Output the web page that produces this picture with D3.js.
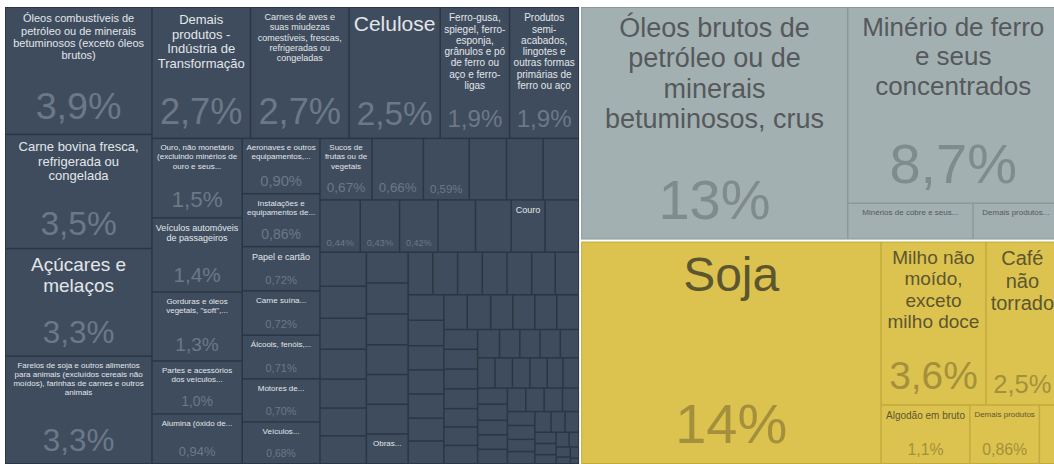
<!DOCTYPE html>
<html>
<head>
<meta charset="utf-8">
<script src="https://cdn.jsdelivr.net/npm/d3@7"></script>
<style>
  html, body { margin: 0; padding: 0; background: #fff; overflow: hidden; }
  svg { display: block; }
</style>
</head>
<body>
<svg id="chart"></svg>
<script>
// Exportações brasileiras por produto (participação %, leitura aproximada do gráfico)
const groupNames = ["Indústria de Transformação", "Indústria Extrativa", "Agropecuária"];

// "" = nome não legível na imagem
const transfNames = [
  "Óleos combustíveis de petróleo ou de minerais betuminosos (exceto óleos brutos)",
  "Carne bovina fresca, refrigerada ou congelada",
  "Açúcares e melaços",
  "Farelos de soja e outros alimentos para animais (excluídos cereais não moídos), farinhas de carnes e outros animais",
  "Demais produtos - Indústria de Transformação",
  "Carnes de aves e suas miudezas comestíveis, frescas, refrigeradas ou congeladas",
  "Celulose",
  "Ferro-gusa, spiegel, ferro-esponja, grânulos e pó de ferro ou aço e ferro-ligas",
  "Produtos semi-acabados, lingotes e outras formas primárias de ferro ou aço",
  "Ouro, não monetário (excluindo minérios de ouro e seus concentrados)",
  "Veículos automóveis de passageiros",
  "Gorduras e óleos vegetais, \"soft\", bruto, refinado ou fracionado",
  "Partes e acessórios dos veículos automotivos",
  "Alumina (óxido de alumínio), exceto corindo artificial",
  "Aeronaves e outros equipamentos, incluindo suas partes",
  "Instalações e equipamentos de engenharia civil e construtores, e suas partes",
  "Papel e cartão",
  "Carne suína fresca, refrigerada ou congelada",
  "Álcoois, fenóis, fenóis-álcoois, e seus derivados",
  "Motores de pistão, e suas partes",
  "Veículos automóveis para transporte de mercadorias",
  "Sucos de frutas ou de vegetais",
  "", "", "", "", "",
  "", "", "", "", "", "Couro", "",
  "", "", "", "", "", "", "",
  "", "", "", "", "", "", "Obras de ferro ou aço"
];
const transfValues = [
  3.9, 3.5, 3.3, 3.3,
  2.7, 2.7, 2.5, 1.9, 1.9,
  1.5, 1.4, 1.3, 1.0, 0.94,
  0.90, 0.86, 0.72, 0.72, 0.71, 0.70, 0.68,
  0.67, 0.66, 0.59, 0.48, 0.47, 0.46,
  0.44, 0.43, 0.42, 0.41, 0.39, 0.37, 0.37,
  0.33, 0.31, 0.30, 0.29, 0.28, 0.27, 0.27,
  0.27, 0.27, 0.27, 0.26, 0.26, 0.26, 0.26,
  0.22, 0.22, 0.22, 0.22, 0.22, 0.21, 0.21,
  0.19, 0.19, 0.18, 0.18, 0.18, 0.17, 0.17,
  0.17, 0.17, 0.16, 0.16, 0.16, 0.16,
  0.14, 0.14, 0.14, 0.14, 0.13, 0.13,
  0.13, 0.13, 0.12, 0.12, 0.12,
  0.11, 0.11, 0.11, 0.11, 0.11,
  0.10, 0.10, 0.10, 0.10,
  0.09, 0.09, 0.09, 0.09,
  0.09, 0.09, 0.08, 0.08, 0.08, 0.07, 0.07, 0.07, 0.06, 0.06,
  0.05, 0.05, 0.04, 0.04, 0.03, 0.03, 0.02, 0.02, 0.01
];

const extrNames = [
  "Óleos brutos de petróleo ou de minerais betuminosos, crus",
  "Minério de ferro e seus concentrados",
  "Minérios de cobre e seus concentrados",
  "Demais produtos - Indústria Extrativa"
];
const extrValues = [13, 8.7, 0.95, 0.65];

const agroNames = [
  "Soja",
  "Milho não moído, exceto milho doce",
  "Café não torrado",
  "Algodão em bruto",
  "Demais produtos - Agropecuária",
  ""
];
const agroValues = [14, 3.6, 2.5, 1.1, 0.86, 0.24];

const groupColors = [
  { fill: "#3f4c5d", line: "#2c3643", label: "#e2e6ea", share: "#6c7888" },
  { fill: "#a3b0b2", line: "#8c999b", label: "#55595b", share: "#7f8b8d" },
  { fill: "#dcc34f", line: "#c2aa3d", label: "#5c5630", share: "#a4903c" }
];

const width = 1054, height = 464;
const margin = { top: 7, left: 5 };
const treeW = 1054, treeH = 457;

const FONT = '"Liberation Sans", Arial, Helvetica, sans-serif';
const LABEL_MAX = 48, LABEL_MIN = 8, LH = 1.13;
const SHARE_MAX = 56, SHARE_MIN = 8.85;
const PADX = 3, PADY = 4;

const fmt = d3.formatLocale({ decimal: ",", thousands: ".", grouping: [3], currency: ["", ""] }).format(".2r");

const names = [transfNames, extrNames, agroNames];
const values = [transfValues, extrValues, agroValues];

const data = {
  name: "Exportações",
  children: groupNames.map((g, i) => ({
    name: g,
    gi: i,
    children: values[i].map((v, j) => ({ name: names[i][j] || "", value: v, gi: i }))
  }))
};

const root = d3.hierarchy(data)
  .sum(d => d.value)
  .sort((a, b) => b.value - a.value);

d3.treemap()
  .tile(d3.treemapSquarify)
  .size([treeW, treeH])
  .paddingInner(n => n.depth === 0 ? 2 : 1.5)
  .paddingOuter(n => n.depth === 0 ? 0 : 1)(root);

const svg = d3.select("#chart").attr("width", width).attr("height", height);
const g = svg.append("g").attr("transform", `translate(${margin.left},${margin.top})`);

// text measuring
const ctx = document.createElement("canvas").getContext("2d");
function textW(s, size) {
  ctx.font = `${size}px ${FONT}`;
  return ctx.measureText(s).width;
}

// split into tokens, breaking after hyphens too
function tokenize(text) {
  const toks = [];
  text.split(/\s+/).filter(Boolean).forEach(w => {
    const parts = w.split(/(?<=-)(?=.)/);
    parts.forEach((p, k) => toks.push({ t: p, glue: k > 0 }));
  });
  return toks;
}
function joinToks(toks) {
  return toks.map((o, k) => (k > 0 && !o.glue ? " " : "") + o.t).join("");
}

function wrap(toks, size, maxW) {
  const lines = [];
  let cur = [];
  for (const tk of toks) {
    const next = cur.concat([tk]);
    if (textW(joinToks(next), size) <= maxW) {
      cur = next;
    } else {
      if (!cur.length) return null;
      lines.push(cur);
      const nt = { t: tk.t, glue: false };
      if (textW(nt.t, size) > maxW) return null;
      cur = [nt];
    }
  }
  if (cur.length) lines.push(cur);
  return lines.map(joinToks);
}

// font size guess from box area, then shrink until the wrapped text fits
function fitLabel(text, boxW, boxH) {
  if (!text || boxW <= 0 || boxH < LABEL_MIN * LH) return null;
  const toks = tokenize(text);
  const sizes = toks.map(o => textW(o.t, LABEL_MAX));
  const areaMod = 1.165 + boxW / boxH * 0.1;
  const textArea = d3.sum(sizes) * LABEL_MAX * 1.2 * areaMod;
  const maxWord = d3.max(sizes);
  let s = LABEL_MAX;
  if (maxWord > boxW || textArea > boxW * boxH) {
    s = Math.floor(LABEL_MAX * Math.min(Math.sqrt(boxW * boxH / textArea), boxW / maxWord));
  }
  s = Math.min(s, Math.floor(boxH * 0.8));
  for (; s >= LABEL_MIN; s -= 1) {
    const lines = wrap(toks, s, boxW);
    if (lines && lines.length * s * LH <= boxH) return { size: s, lines };
  }
  // truncate with ellipsis at the smallest size
  s = LABEL_MIN;
  const maxLines = Math.floor(boxH / (s * LH));
  if (maxLines < 1) return null;
  const lines = [];
  let cur = [];
  const ellipsed = c => {
    while (c.length && (c[c.length - 1].t === "-" || textW(joinToks(c) + "...", s) > boxW)) c.pop();
    return c.length ? joinToks(c) + "..." : null;
  };
  for (const tk of toks) {
    const next = cur.concat([tk]);
    if (textW(joinToks(next), s) <= boxW) { cur = next; continue; }
    if (lines.length + 1 >= maxLines || !cur.length) {
      const last = ellipsed(cur);
      if (last) lines.push(last);
      return lines.length ? { size: s, lines } : null;
    }
    lines.push(joinToks(cur));
    cur = [{ t: tk.t, glue: false }];
  }
  return lines.length ? { size: s, lines } : null;
}

// group backgrounds (become the cell borders)
g.selectAll("rect.group")
  .data(root.children)
  .join("rect")
  .attr("class", "group")
  .attr("x", d => d.x0)
  .attr("y", d => d.y0)
  .attr("width", d => d.x1 - d.x0)
  .attr("height", d => d.y1 - d.y0)
  .attr("fill", d => groupColors[d.data.gi].line);

const cells = g.selectAll("g.cell")
  .data(root.leaves())
  .join("g")
  .attr("class", "cell")
  .attr("transform", d => `translate(${d.x0},${d.y0})`);

cells.append("rect")
  .attr("width", d => Math.max(0, d.x1 - d.x0))
  .attr("height", d => Math.max(0, d.y1 - d.y0))
  .attr("fill", d => groupColors[d.data.gi].fill);

cells.each(function(d) {
  const w = d.x1 - d.x0, h = d.y1 - d.y0;
  const col = groupColors[d.data.gi];
  const cell = d3.select(this);

  // share (bottom)
  const shareText = fmt(d.value) + "%";
  const sf = Math.min(SHARE_MAX, (w - 10) * 0.95 / textW(shareText, 1), 0.32 * h - 2.5);
  const showShare = sf >= SHARE_MIN;
  if (showShare) {
    cell.append("text")
      .attr("x", w / 2)
      .attr("y", h - 3 - 0.3 * sf)
      .attr("text-anchor", "middle")
      .attr("font-family", FONT)
      .attr("font-size", sf)
      .attr("fill", col.share)
      .text(shareText);
  }

  // name (top)
  const sh = showShare ? 1.72 * sf : 0.4 * (h - 2 * PADY);
  const fit = fitLabel(d.data.name, w - 2 * PADX, h - 2 * PADY - sh);
  if (fit) {
    const t = cell.append("text")
      .attr("text-anchor", "middle")
      .attr("font-family", FONT)
      .attr("font-size", fit.size)
      .attr("fill", col.label);
    fit.lines.forEach((ln, k) => {
      t.append("tspan")
        .attr("x", w / 2)
        .attr("y", PADY + fit.size * 0.92 + k * fit.size * LH)
        .text(ln);
    });
  }
});
</script>
</body>
</html>
